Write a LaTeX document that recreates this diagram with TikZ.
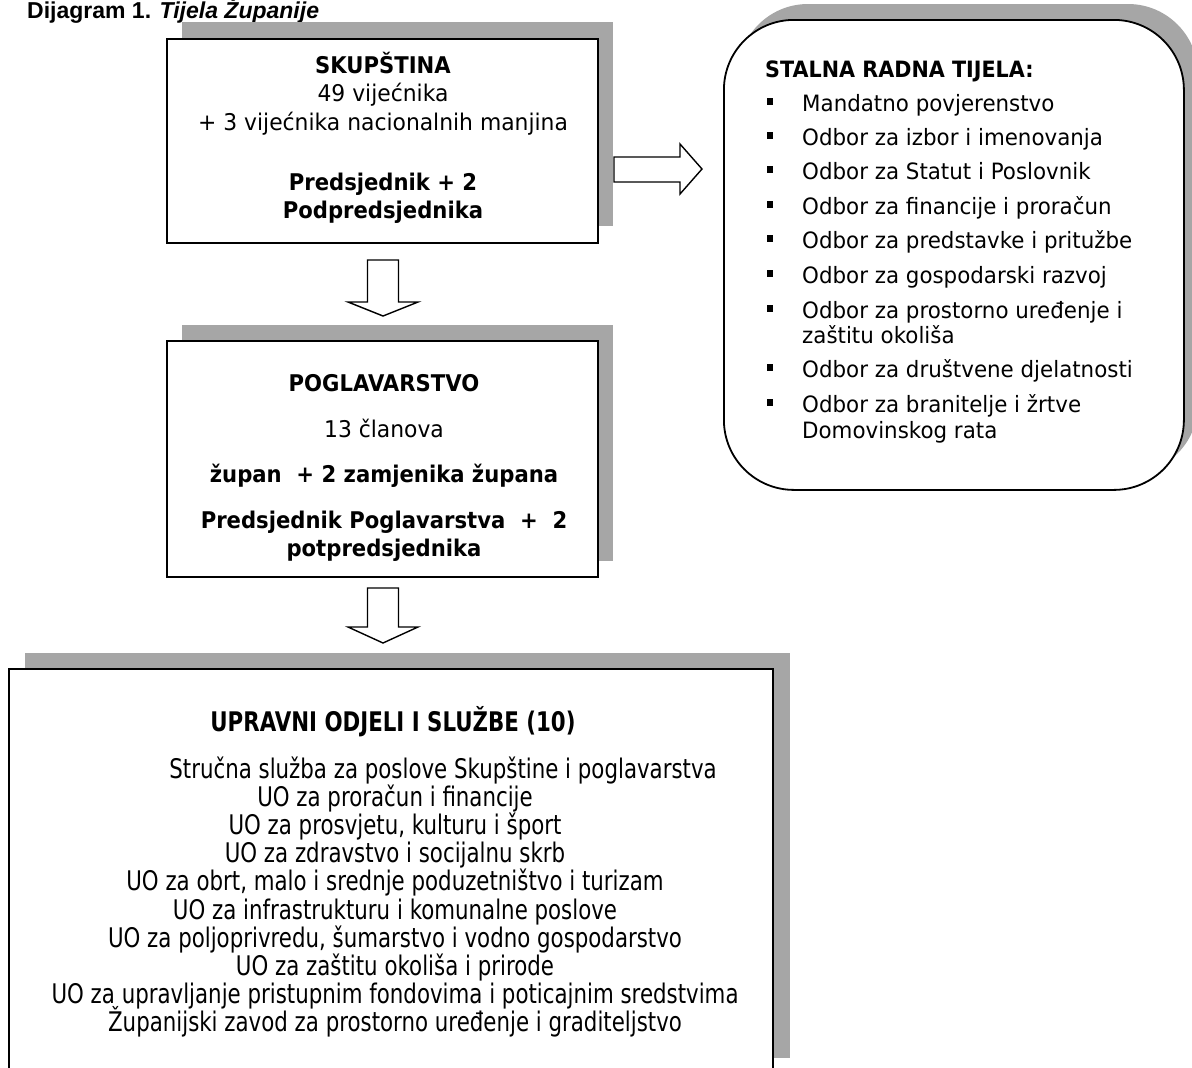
\documentclass[tikz,border=0pt]{standalone}
\usepackage{fontspec}
\setmainfont{DejaVu Sans}[FakeStretch=0.95]
\newfontfamily\boldf{DejaVu Sans}[FakeStretch=0.92]
\newfontfamily\condf{DejaVu Sans}[FakeStretch=0.79]
\newfontfamily\titlef{Liberation Sans}
\definecolor{shd}{gray}{0.65}
\begin{document}
\begin{tikzpicture}[x=1pt,y=-1pt,
  boxline/.style={draw=black, line width=1.8pt, fill=white},
  shadowbox/.style={fill=shd, draw=none},
  barrow/.style={draw=black, line width=1.4pt, fill=white, line join=miter},
  txt/.style={inner sep=0pt, anchor=base, font=\fontsize{23}{27}\selectfont},
  btxt/.style={txt, font=\fontsize{23}{27}\boldf\bfseries},
  ltxt/.style={inner sep=0pt, anchor=base west, font=\fontsize{22.5}{27}\selectfont},
  ctxt/.style={inner sep=0pt, anchor=base, font=\fontsize{27}{28}\condf},
  bullet/.style={fill=black, inner sep=0pt, minimum width=6pt, minimum height=7pt}
]
\useasboundingbox (0,0) rectangle (1192,1068);

% title
\node[inner sep=0pt, anchor=base west, font=\fontsize{23}{25}\titlef\bfseries] (title) at (27,19) {Dijagram 1. \textit{Tijela Županije}};

% shadows
\fill[shadowbox] (182,22) rectangle (613,226);
\fill[shadowbox] (182,325) rectangle (613,561);
\fill[shadowbox] (25,653) rectangle (790,1058);
\fill[shadowbox, rounded corners=70pt] (738,4) rectangle (1198,474);

% boxes
\node[boxline, rectangle, minimum width=431pt, minimum height=204pt, anchor=north west] (skup) at (166,38) {};
\node[boxline, rectangle, minimum width=431pt, minimum height=236pt, anchor=north west] (pogl) at (166,340) {};
\path[fill=white] (9,669) rectangle (773,1070);
\draw[line width=1.8pt] (9,1070) -- (9,669) -- (773,669) -- (773,1070);
\coordinate (uprav) at (391,669);
\node[boxline, rectangle, rounded corners=70pt, minimum width=460pt, minimum height=470pt, anchor=north west] (stalna) at (723,19) {};

% block arrows
\draw[barrow] (367.5,260) -- (398.5,260) -- (398.5,302) -- (418,302) -- (383,316) -- (348,302) -- (367.5,302) -- cycle;
\draw[barrow] (367.5,588) -- (398.5,588) -- (398.5,627) -- (418,627) -- (383,643) -- (348,627) -- (367.5,627) -- cycle;
\draw[barrow] (614,157) -- (680,157) -- (680,144) -- (702,169) -- (680,194) -- (680,182) -- (614,182) -- cycle;

% SKUPSTINA texts
\node[btxt] (s1) at (383,73) {SKUPŠTINA};
\node[txt] (s2) at (383,101) {49 vijećnika};
\node[txt] (s3) at (383,130) {+ 3 vijećnika nacionalnih manjina};
\node[btxt] (s4) at (383,190) {Predsjednik + 2};
\node[btxt] (s5) at (383,218) {Podpredsjednika};

% POGLAVARSTVO texts
\node[btxt] (p1) at (384,391) {POGLAVARSTVO};
\node[txt] (p2) at (384,437) {13 članova};
\node[btxt] (p3) at (384,482) {župan \ + 2 zamjenika župana};
\node[btxt] (p4) at (384,528) {Predsjednik Poglavarstva \ + \ 2};
\node[btxt] (p5) at (384,556) {potpredsjednika};

% STALNA texts
\node[ltxt, font=\fontsize{22.5}{27}\boldf\bfseries] (r0) at (765,77) {STALNA RADNA TIJELA:};
\foreach \n/\y/\t in {1/103/Mandatno povjerenstvo, 2/137/Odbor za izbor i imenovanja, 3/171/Odbor za Statut i Poslovnik, 4/206/Odbor za financije i proračun, 5/240/Odbor za predstavke i pritužbe, 6/275/Odbor za gospodarski razvoj, 7/310/Odbor za prostorno uređenje i, 9/369/Odbor za društvene djelatnosti, 10/404/Odbor za branitelje i žrtve}{
  \node[bullet] (b\n) at (770,\y-2) {};
  \node[ltxt] (r\n) at (802,\y+8) {\t};
}
\node[ltxt] (r8) at (802,343) {zaštitu okoliša};
\node[ltxt] (r11) at (802,438) {Domovinskog rata};

% UPRAVNI texts
\node[ctxt, font=\fontsize{27}{28}\condf\bfseries] (u0) at (393,731) {UPRAVNI ODJELI I SLUŽBE (10)};
\node[ctxt] (u1) at (443,778) {Stručna služba za poslove Skupštine i poglavarstva};
\foreach \n/\y/\t in {2/806/UO za proračun i financije, 3/834/{UO za prosvjetu, kulturu i šport}, 4/862/UO za zdravstvo i socijalnu skrb, 5/890/{UO za obrt, malo i srednje poduzetništvo i turizam}, 6/919/UO za infrastrukturu i komunalne poslove, 7/947/{UO za poljoprivredu, šumarstvo i vodno gospodarstvo}, 8/975/UO za zaštitu okoliša i prirode, 9/1003/UO za upravljanje pristupnim fondovima i poticajnim sredstvima, 10/1031/Županijski zavod za prostorno uređenje i graditeljstvo}{
  \node[ctxt] (u\n) at (395,\y) {\t};
}
\end{tikzpicture}
\end{document}
